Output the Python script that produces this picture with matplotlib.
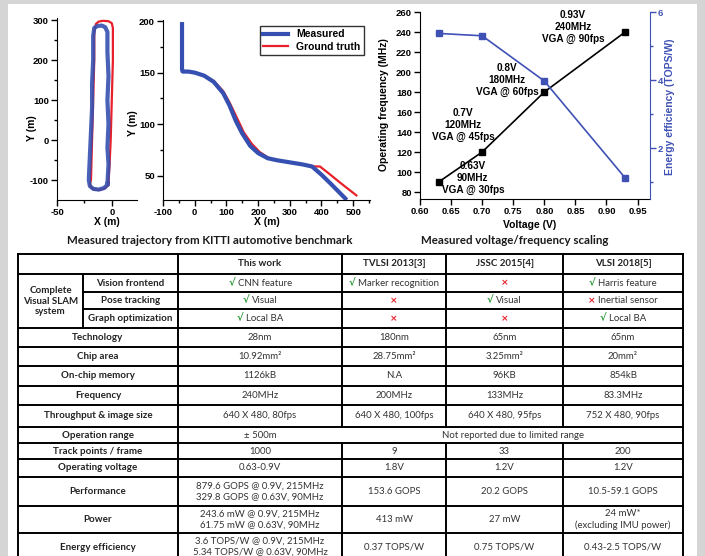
import matplotlib
matplotlib.use("Agg")
import matplotlib.pyplot as plt
from matplotlib.patches import Rectangle
from matplotlib.offsetbox import TextArea, HPacker, AnnotationBbox

W, H = 705, 556

# ---- trajectory, KITTI loop (left panel) ----
gt1_x = [-3, -2, -1, 0, 1, 1, 0, -3, -8, -12, -14.5, -16, -16, -17, -18, -19, -20, -19, -16, -11, -6, -3, -3]
gt1_y = [-105, -60, 0, 100, 200, 280, 292, 297, 298, 296, 290, 270, 200, 100, 0, -100, -110, -118, -124, -125, -120, -112, -105]
ms1_x = [-4, -3, -4, -3, -4, -3, -4, -4, -6, -9, -13, -16, -17, -17, -18, -18, -19, -20, -21, -20, -17, -12, -7, -4, -4]
ms1_y = [-110, -60, -20, 40, 100, 160, 220, 270, 282, 286, 285, 280, 260, 200, 140, 80, 20, -40, -100, -115, -122, -124, -120, -112, -110]

# ---- trajectory, second sequence ----
gt2_x = [-40, -20, 0, 30, 60, 90, 110, 135, 155, 180, 205, 235, 260, 300, 340, 380, 395, 420, 460, 510]
gt2_y = [151, 151, 150, 147, 142, 132, 121, 105, 92, 81, 73, 67, 65, 63, 61, 59, 59, 53, 43, 31]
ms2_x = [-40, -40, -40, -38, -20, 0, 30, 60, 90, 110, 130, 150, 175, 200, 230, 260, 300, 340, 370, 400, 430, 475]
ms2_y = [197, 175, 153, 151, 151, 150, 147, 141, 130, 118, 103, 91, 79, 72, 67, 65, 63, 61, 59, 51, 42, 28]

# ---- voltage / frequency scaling ----
volt = [0.63, 0.70, 0.80, 0.93]
freq = [90, 120, 180, 240]
eff = [5.37, 5.3, 3.97, 1.12]
fps = [30, 45, 60, 90]

# ---- comparison table ----
col_heads = ["This work", "TVLSI 2013[3]", "JSSC 2015[4]", "VLSI 2018[5]"]
slam_labels = ["Vision frontend", "Pose tracking", "Graph optimization"]
slam_vals = [
    [(True, "CNN feature"), (True, "Marker recognition"), (False, ""), (True, "Harris feature")],
    [(True, "Visual"), (False, ""), (True, "Visual"), (False, "Inertial sensor")],
    [(True, "Local BA"), (False, ""), (False, ""), (True, "Local BA")],
]
row_labels = ["Technology", "Chip area", "On-chip memory", "Frequency",
              "Throughput & image size", "Operation range", "Track points / frame",
              "Operating voltage", "Performance", "Power", "Energy efficiency"]
row_vals = [
    ["28nm", "180nm", "65nm", "65nm"],
    ["10.92mm²", "28.75mm²", "3.25mm²", "20mm²"],
    ["1126kB", "N.A", "96KB", "854kB"],
    ["240MHz", "200MHz", "133MHz", "83.3MHz"],
    ["640 X 480, 80fps", "640 X 480, 100fps", "640 X 480, 95fps", "752 X 480, 90fps"],
    ["± 500m", "Not reported due to limited range"],
    ["1000", "9", "33", "200"],
    ["0.63-0.9V", "1.8V", "1.2V", "1.2V"],
    ["879.6 GOPS @ 0.9V, 215MHz\n329.8 GOPS @ 0.63V, 90MHz", "153.6 GOPS", "20.2 GOPS", "10.5-59.1 GOPS"],
    ["243.6 mW @ 0.9V, 215MHz\n61.75 mW @ 0.63V, 90MHz", "413 mW", "27 mW", "24 mW*\n(excluding IMU power)"],
    ["3.6 TOPS/W @ 0.9V, 215MHz\n5.34 TOPS/W @ 0.63V, 90MHz", "0.37 TOPS/W", "0.75 TOPS/W", "0.43-2.5 TOPS/W"],
]

BLUE = "#3550b0"
RED = "#e8202a"
EBLUE = "#3f51b5"
INK = "#222222"
GREEN = "#2f9a3a"

plt.rcParams["font.family"] = ["Liberation Sans", "DejaVu Sans"]
plt.rcParams["font.weight"] = "bold"
plt.rcParams["axes.labelweight"] = "bold"
plt.rcParams["axes.unicode_minus"] = False

fig = plt.figure(figsize=(W / 100, H / 100), dpi=100)
fig.patch.set_facecolor("#d5d5d5")

# full-figure pixel canvas for the frame, captions and the table
bg = fig.add_axes([0, 0, 1, 1])
bg.set_xlim(0, W)
bg.set_ylim(H, 0)
bg.axis("off")
bg.add_patch(Rectangle((8, 4), 689, 560, fc="white", ec="none"))


def fx(x, y):
    return x / W, 1 - y / H


def style(ax, fs=6.8):
    for s in ("top", "right"):
        ax.spines[s].set_visible(False)
    ax.tick_params(which="both", direction="out", labelsize=fs, width=1, pad=1.8)
    ax.tick_params(which="major", length=4)
    ax.tick_params(which="minor", length=2.5)


# ---- left trajectory ----
ax1 = fig.add_axes([57 / W, 1 - 200 / H, 80 / W, 182 / H])
ax1.plot(gt1_x, gt1_y, color=RED, lw=1.6)
ax1.plot(ms1_x, ms1_y, color=BLUE, lw=3.0, alpha=0.9)
ax1.set_xlim(-50, 23)
ax1.set_ylim(-150, 305)
ax1.set_xticks([-50, 0])
ax1.set_xticks([-25], minor=True)
ax1.set_yticks([-100, 0, 100, 200, 300])
ax1.set_yticks([-50, 50, 150, 250], minor=True)
style(ax1)
fig.text(*fx(32, 128), "Y (m)", rotation=90, ha="center", va="center", fontsize=7.5)
fig.text(*fx(107, 222), "X (m)", ha="center", va="center", fontsize=7.5)

# ---- second trajectory ----
ax2 = fig.add_axes([163 / W, 1 - 200 / H, 207 / W, 180 / H])
ax2.plot(ms2_x, ms2_y, color=BLUE, lw=3.0, label="Measured", zorder=2)
ax2.plot(gt2_x, gt2_y, color=RED, lw=1.6, label="Ground truth", zorder=1)
ax2.set_xlim(-100, 553)
ax2.set_ylim(26.5, 201)
ax2.set_xticks(range(-100, 501, 100))
ax2.set_xticks(range(-50, 551, 100), minor=True)
ax2.set_yticks([50, 100, 150, 200])
ax2.set_yticks([75, 125, 175], minor=True)
style(ax2)
leg = ax2.legend(loc="upper right", fontsize=7.5, frameon=True, fancybox=False,
                 edgecolor="black", borderaxespad=0.6, handlelength=2.4,
                 borderpad=0.3, labelspacing=0.25)
leg.get_frame().set_linewidth(1.0)
fig.text(*fx(133, 123), "Y (m)", rotation=90, ha="center", va="center", fontsize=7.5)
fig.text(*fx(267, 222), "X (m)", ha="center", va="center", fontsize=7.5)

# ---- voltage / frequency ----
ax3 = fig.add_axes([420 / W, 1 - 199 / H, 230 / W, 187 / H])
ax3.plot(volt, freq, color="black", lw=1.2, marker="s", ms=5, zorder=3)
ax3.set_xlim(0.60, 0.97)
ax3.set_ylim(73, 260)
ax3.set_xticks([0.60, 0.65, 0.70, 0.75, 0.80, 0.85, 0.90, 0.95])
ax3.set_xticklabels([f"{v:.2f}" for v in ax3.get_xticks()])
ax3.set_yticks(range(80, 261, 20))
style(ax3)
ax3b = ax3.twinx()
ax3b.plot(volt, eff, color=EBLUE, lw=1.2, marker="s", ms=5)
ax3b.set_ylim(0.5, 6.0)
ax3b.set_yticks([2, 4, 6])
ax3b.set_yticks([1, 3, 5], minor=True)
for s in ("top", "left", "bottom"):
    ax3b.spines[s].set_visible(False)
ax3b.spines["right"].set_color(EBLUE)
ax3b.tick_params(which="both", direction="out", labelsize=6.8, width=1,
                 colors=EBLUE, pad=1.5)
ax3b.tick_params(which="major", length=4)
ax3b.tick_params(which="minor", length=2.5)

ann_pos = [(0.685, 94), (0.669, 147), (0.74, 192), (0.846, 245)]
for (x, y), v, f, r in zip(ann_pos, volt, freq, fps):
    ax3.text(x, y, f"{v:g}V\n{f}MHz\nVGA @ {r}fps", ha="center", va="center",
             fontsize=7.2, linespacing=1.25, zorder=4)

fig.text(*fx(384, 105), "Operating frequency (MHz)", rotation=90,
         ha="center", va="center", fontsize=7.5)
fig.text(*fx(670, 107), "Energy efficiency (TOPS/W)", rotation=90,
         ha="center", va="center", fontsize=7.5, color=EBLUE)
fig.text(*fx(530, 225), "Voltage (V)", ha="center", va="center", fontsize=7.5)

# captions
cap = dict(ha="center", va="center", fontsize=8.3, family=["Lato", "DejaVu Sans"],
           weight="bold", color="#1a1a1a")
bg.text(210, 241, "Measured trajectory from KITTI automotive benchmark", **cap)
bg.text(515, 241, "Measured voltage/frequency scaling", **cap)

# ---- table ----
xs = [18, 83, 178, 342, 446, 563, 683]
ys = [254, 274, 292, 309, 328, 347, 366, 386, 405, 427, 443, 459, 477, 506, 533, 562]
LW = 1.4
TF = ["Lato", "DejaVu Sans"]
lab = dict(ha="center", va="center", fontsize=7, family=TF, weight="bold", color=INK)
val = dict(ha="center", va="center", fontsize=6.9, family=TF, weight="normal",
           color="#333333", linespacing=1.25)

for i, y in enumerate(ys):
    x0 = xs[1] if i in (2, 3) else xs[0]
    bg.plot([x0, xs[-1]], [y, y], color="black", lw=LW, solid_capstyle="projecting")
range_row = 4 + row_labels.index("Operation range")
for j, x in enumerate(xs):
    if j == 1:
        bg.plot([x, x], [ys[1], ys[4]], color="black", lw=LW)
    elif j in (3, 4, 5):
        bg.plot([x, x], [ys[0], ys[range_row]], color="black", lw=LW)
        bg.plot([x, x], [ys[range_row + 1], ys[-1]], color="black", lw=LW)
    else:
        bg.plot([x, x], [ys[0], ys[-1]], color="black", lw=LW)

mid_x = [(xs[k] + xs[k + 1]) / 2 for k in range(2, 6)]
for cx, h in zip(mid_x, col_heads):
    bg.text(cx, (ys[0] + ys[1]) / 2, h, **lab)

bg.text((xs[0] + xs[1]) / 2, (ys[1] + ys[4]) / 2, "Complete\nVisual SLAM\nsystem",
        linespacing=1.2, **lab)


def status_cell(x, y, ok, txt):
    mark = TextArea("√" if ok else "×", textprops=dict(
        color=GREEN if ok else RED, fontsize=7.2 if ok else 6.6, family="DejaVu Sans",
        weight="bold"))
    kids = [mark]
    if txt:
        kids.append(TextArea(txt, textprops=dict(color="#333333", fontsize=6.9,
                                                 family=TF, weight="normal")))
    box = HPacker(children=kids, pad=0, sep=2, align="center")
    bg.add_artist(AnnotationBbox(box, (x, y), frameon=False, pad=0,
                                 box_alignment=(0.5, 0.5)))


for r, (name, cells) in enumerate(zip(slam_labels, slam_vals)):
    cy = (ys[r + 1] + ys[r + 2]) / 2
    bg.text((xs[1] + xs[2]) / 2, cy, name, **lab)
    for cx, (ok, txt) in zip(mid_x, cells):
        status_cell(cx, cy, ok, txt)

for r, (name, cells) in enumerate(zip(row_labels, row_vals)):
    top, bot = ys[r + 4], ys[r + 5]
    cy = (top + bot) / 2
    if bot > H:
        cy = top + 14
    bg.text((xs[0] + xs[2]) / 2, cy, name, **lab)
    if len(cells) == 2:
        bg.text(mid_x[0], cy, cells[0], **val)
        bg.text((xs[3] + xs[6]) / 2, cy, cells[1], **val)
    else:
        for cx, t in zip(mid_x, cells):
            bg.text(cx, cy, t, **val)

fig.savefig("out.png", dpi=100)
